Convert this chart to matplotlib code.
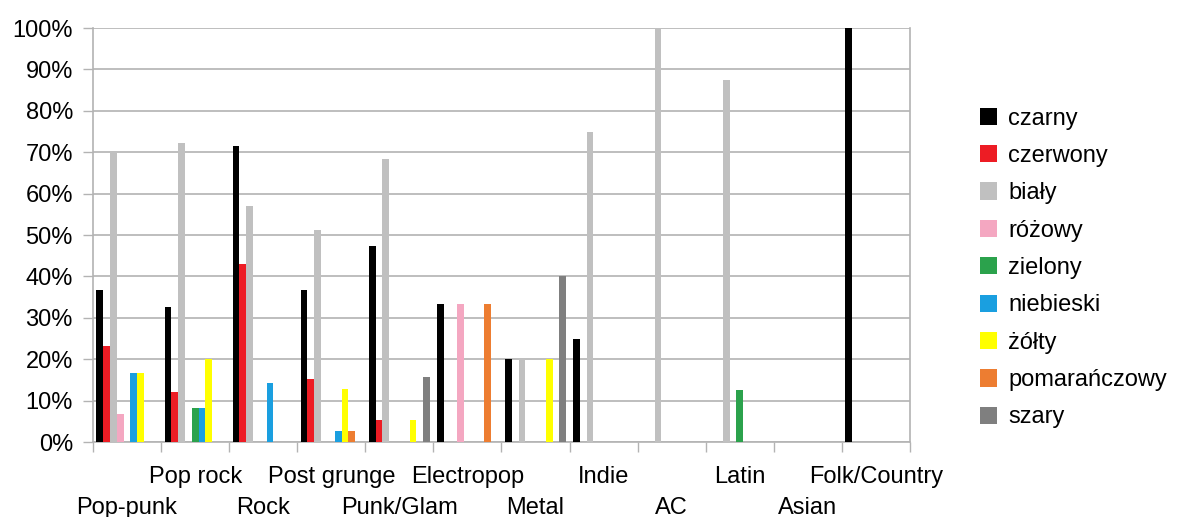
import numpy as np
import matplotlib.pyplot as plt
from matplotlib.patches import Patch
from matplotlib.ticker import FixedLocator, PercentFormatter

plt.rcParams['font.family'] = ['Liberation Sans', 'DejaVu Sans']

categories = ["Pop-punk", "Pop rock", "Rock", "Post grunge", "Punk/Glam",
              "Electropop", "Metal", "Indie", "AC", "Latin", "Asian", "Folk/Country"]

series_names = ["czarny", "czerwony", "biały", "różowy", "zielony",
                "niebieski", "żółty", "pomarańczowy", "szary"]

# values in %, one list per colour, in category order
czarny       = [36.7, 32.5, 71.4, 36.8, 47.4, 33.3, 20.0, 25.0, 0, 0, 0, 100]
czerwony     = [23.3, 12.2, 42.9, 15.2, 5.3, 0, 0, 0, 0, 0, 0, 0]
bialy        = [70.0, 72.2, 57.1, 51.3, 68.4, 0, 20.0, 75.0, 100, 87.5, 0, 0]
rozowy       = [6.7, 0, 0, 0, 0, 33.3, 0, 0, 0, 0, 0, 0]
zielony      = [0, 8.3, 0, 0, 0, 0, 0, 0, 0, 12.5, 0, 0]
niebieski    = [16.7, 8.3, 14.3, 2.6, 0, 0, 0, 0, 0, 0, 0, 0]
zolty        = [16.7, 20.0, 0, 12.8, 5.3, 0, 20.0, 0, 0, 0, 0, 0]
pomaranczowy = [0, 0, 0, 2.6, 0, 33.3, 0, 0, 0, 0, 0, 0]
szary        = [0, 0, 0, 0, 15.8, 0, 40.0, 0, 0, 0, 0, 0]

series = [czarny, czerwony, bialy, rozowy, zielony,
          niebieski, zolty, pomaranczowy, szary]
colors = ["#000000", "#ed1c24", "#c0c0c0", "#f4a7c1", "#2ba24c",
          "#1a9fe0", "#ffff00", "#ed7d31", "#7f7f7f"]

fig = plt.figure(figsize=(11.79, 5.17), dpi=100)
ax = fig.add_axes([0.0789, 0.145, 0.6929, 0.8008])

n = len(series)
bar_w = 0.1
centers = np.arange(len(categories)) + 0.5
for i, (vals, col) in enumerate(zip(series, colors)):
    ax.bar(centers + (i - (n - 1) / 2) * bar_w, vals, width=bar_w,
           color=col, zorder=3, linewidth=0)

ax.set_xlim(0, len(categories))
ax.set_ylim(0, 100)

grid_c = "#b3b3b3"
ax.set_yticks(np.arange(0, 101, 10))
ax.yaxis.set_major_formatter(PercentFormatter(decimals=0))
ax.yaxis.grid(True, color=grid_c, linewidth=1.2, zorder=0)
ax.tick_params(axis="y", length=7.5, width=1, color=grid_c, pad=7, labelsize=17)

# boundary ticks (no labels) + centred category labels on two staggered rows
ax.xaxis.set_major_locator(FixedLocator(np.arange(len(categories) + 1)))
ax.xaxis.set_minor_locator(FixedLocator(centers))
ax.set_xticklabels([])
ax.set_xticklabels(categories, minor=True)
ax.tick_params(axis="x", which="major", length=7.5, width=1, color=grid_c)
ax.tick_params(axis="x", which="minor", length=0, labelsize=17)
for k, t in enumerate(ax.xaxis.get_minor_ticks()):
    t.set_pad(17 if k % 2 else 39.5)

for side in ["left", "right", "bottom"]:
    ax.spines[side].set_color(grid_c)
    ax.spines[side].set_linewidth(1.2)
ax.spines["top"].set_visible(False)

handles = [Patch(facecolor=c, edgecolor="none") for c in colors]
fig.legend(handles, series_names, loc="upper left", bbox_to_anchor=(0.823, 0.81),
           frameon=False, fontsize=17, handlelength=0.75, handleheight=0.75,
           handletextpad=0.45, labelspacing=0.65, borderaxespad=0)

fig.savefig("out.png", dpi=100)
